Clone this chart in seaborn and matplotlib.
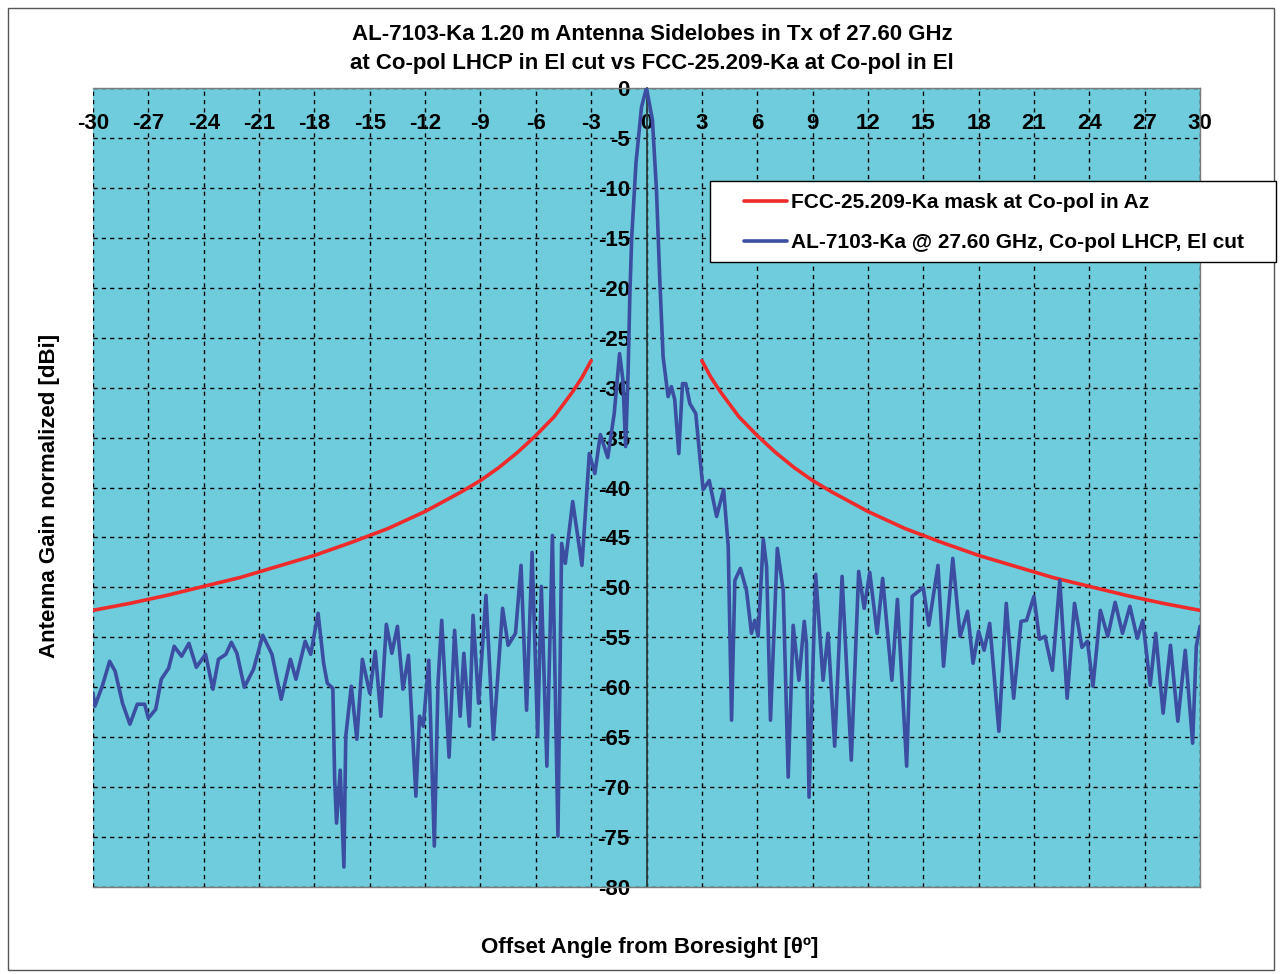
import numpy as np
import pandas as pd
import matplotlib
matplotlib.use("Agg")
import matplotlib.pyplot as plt
from matplotlib.lines import Line2D
from matplotlib.patches import Rectangle
import seaborn as sns

# ---------------- data ----------------
mask_angle = [3, 3.5, 4, 5, 6, 7, 8, 9, 10, 12, 14, 16, 18, 20, 22, 24, 26, 28, 30]
mask_db = [-27.3, -29.0, -30.4, -32.9, -34.8, -36.5, -38.0, -39.3, -40.4, -42.4,
           -44.1, -45.5, -46.8, -47.9, -49.0, -49.9, -50.8, -51.6, -52.3]

ant_angle = [-30.0, -29.9, -29.5, -29.1, -28.8, -28.4, -28.0, -27.6, -27.2, -27.0,
             -26.6, -26.3, -25.9, -25.6, -25.2, -24.8, -24.4, -23.9, -23.5, -23.2,
             -22.8, -22.5, -22.2, -21.8, -21.3, -20.8, -20.3, -19.8, -19.3, -19.0,
             -18.5, -18.2, -17.8, -17.5, -17.3, -17.0, -16.9, -16.8, -16.6, -16.4,
             -16.3, -16.0, -15.7, -15.4, -15.0, -14.7, -14.4, -14.1, -13.8, -13.5,
             -13.2, -12.9, -12.5, -12.3, -12.1, -11.8, -11.5, -11.3, -11.1, -10.7,
             -10.4, -10.1, -9.9, -9.6, -9.4, -9.1, -8.7, -8.3, -7.8, -7.5,
             -7.1, -6.8, -6.5, -6.2, -5.9, -5.7, -5.4, -5.1, -4.8, -4.6,
             -4.4, -4.0, -3.5, -3.1, -2.8, -2.5, -2.1, -1.75, -1.46, -1.28,
             -1.13, -1.0, -0.9, -0.8, -0.57, -0.27, 0.0, 0.32, 0.54, 0.72,
             0.90, 1.17, 1.35, 1.53, 1.75, 1.95, 2.13, 2.35, 2.67, 2.89,
             3.07, 3.4, 3.8, 4.18, 4.43, 4.61, 4.79, 5.09, 5.42, 5.69,
             5.87, 6.05, 6.33, 6.51, 6.72, 7.09, 7.41, 7.68, 7.95, 8.26,
             8.55, 8.67, 8.81, 9.17, 9.57, 9.84, 10.2, 10.6, 11.1, 11.5,
             11.8, 12.1, 12.5, 12.8, 13.3, 13.6, 14.1, 14.4, 15.0, 15.3,
             15.8, 16.1, 16.6, 17.0, 17.4, 17.7, 18.0, 18.3, 18.6, 19.1,
             19.5, 19.9, 20.3, 20.6, 21.0, 21.3, 21.6, 22.0, 22.4, 22.8,
             23.2, 23.6, 23.9, 24.2, 24.6, 25.0, 25.4, 25.8, 26.2, 26.6,
             26.9, 27.3, 27.6, 28.0, 28.4, 28.8, 29.2, 29.6, 29.8, 30.0]
ant_db = [-60.6, -61.9, -59.9, -57.4, -58.4, -61.6, -63.7, -61.7, -61.7, -63.1,
          -62.2, -59.2, -58.1, -55.9, -56.9, -55.6, -58.0, -56.7, -60.2, -57.2,
          -56.7, -55.5, -56.6, -60.0, -58.2, -54.8, -56.7, -61.2, -57.2, -59.2,
          -55.4, -56.7, -52.6, -57.6, -59.6, -60.1, -69.3, -73.6, -68.3, -78.0,
          -64.9, -59.9, -65.2, -57.2, -60.6, -56.4, -62.9, -53.7, -56.6, -53.9,
          -60.2, -56.8, -70.9, -62.9, -63.9, -57.3, -75.9, -59.6, -53.3, -67.0,
          -54.3, -62.9, -56.6, -63.9, -52.8, -61.6, -50.8, -65.2, -52.1, -55.8,
          -54.6, -47.8, -62.3, -46.5, -64.9, -49.9, -67.9, -44.8, -74.9, -45.6,
          -47.6, -41.4, -47.8, -36.6, -38.6, -34.7, -37.0, -32.6, -26.6, -29.2,
          -35.9, -28.6, -20.6, -14.9, -7.5, -1.9, 0.0, -3.2, -10.2, -19.2,
          -26.9, -30.9, -29.9, -31.2, -36.6, -29.6, -29.6, -31.6, -32.6, -36.9,
          -40.2, -39.3, -42.9, -40.2, -45.9, -63.3, -49.3, -48.1, -50.3, -54.6,
          -53.3, -54.9, -45.2, -47.9, -63.3, -46.1, -50.3, -69.0, -53.8, -59.3,
          -53.4, -55.6, -71.0, -48.7, -59.3, -54.6, -65.9, -48.9, -67.3, -48.4,
          -52.1, -48.5, -54.6, -49.1, -59.3, -51.2, -67.9, -50.9, -50.0, -53.8,
          -47.8, -57.9, -47.1, -54.9, -52.4, -57.6, -54.4, -56.3, -53.6, -64.4,
          -51.6, -61.1, -53.4, -53.3, -50.9, -55.2, -54.9, -58.3, -49.3, -61.1,
          -51.6, -56.0, -55.4, -59.9, -52.3, -54.9, -51.5, -54.6, -51.9, -55.1,
          -53.3, -59.8, -54.6, -62.6, -55.8, -63.4, -56.3, -65.6, -55.9, -53.9]

x_ticks = list(range(-30, 31, 3))
y_ticks = list(range(0, -81, -5))

title_line1 = "AL-7103-Ka 1.20 m Antenna Sidelobes in Tx of 27.60 GHz"
title_line2 = "at Co-pol LHCP in El cut vs FCC-25.209-Ka at Co-pol in El"
x_label = "Offset Angle from Boresight [θº]"
y_label = "Antenna Gain normalized [dBi]"
mask_label = "FCC-25.209-Ka mask at Co-pol in Az"
ant_label = "AL-7103-Ka @ 27.60 GHz, Co-pol LHCP, El cut"

# ---------------- styling ----------------
sns.set_theme(style="white")
plt.rcParams["font.family"] = ["Liberation Sans", "DejaVu Sans"]
plt.rcParams["font.weight"] = "bold"
plt.rcParams["axes.unicode_minus"] = False
plt.rcParams["text.color"] = "black"
plt.rcParams["axes.labelcolor"] = "black"
plt.rcParams["xtick.color"] = "black"
plt.rcParams["ytick.color"] = "black"

FACE = "#6ECCDC"
BLUE = "#3B4EA2"
RED = "#EE2A2A"

W, H = 1283, 974
fig = plt.figure(figsize=(W / 100, H / 100), dpi=100)
fig.patch.set_facecolor("white")
fig.patches.append(Rectangle((8 / W, 4 / H), (1274 - 8) / W, (966 - 4) / H,
                             transform=fig.transFigure, fill=False,
                             edgecolor="#555555", linewidth=1.0, zorder=1))

ax = fig.add_axes([93 / W, 1 - 887 / H, (1200 - 93) / W, (887 - 88) / H])
ax.set_facecolor(FACE)

df_ant = pd.DataFrame({"angle": ant_angle, "gain": ant_db})
df_mask_r = pd.DataFrame({"angle": mask_angle, "gain": mask_db})
df_mask_l = pd.DataFrame({"angle": [-a for a in mask_angle], "gain": mask_db})

sns.lineplot(data=df_mask_l, x="angle", y="gain", ax=ax, color=RED, lw=2.6,
             legend=False, zorder=3)
sns.lineplot(data=df_mask_r, x="angle", y="gain", ax=ax, color=RED, lw=2.6,
             legend=False, zorder=3)
sns.lineplot(data=df_ant, x="angle", y="gain", ax=ax, color=BLUE, lw=2.6,
             legend=False, zorder=4, sort=False)

ax.set_xlim(-30, 30)
ax.set_ylim(-80, 0)
ax.set_xticks(x_ticks)
ax.set_xticklabels([str(t) for t in x_ticks])
ax.set_yticks(y_ticks)
ax.set_yticklabels([str(t) for t in y_ticks])

ax.grid(True, color="black", linestyle=(0, (3, 3)), linewidth=1.0)
ax.set_axisbelow(True)

for s in ["top", "bottom", "right"]:
    ax.spines[s].set_color("#7a7a7a")
    ax.spines[s].set_linewidth(1.0)
ax.spines["left"].set_position(("data", 0))
ax.spines["left"].set_color("#2b3b3b")
ax.spines["left"].set_linewidth(1.3)
ax.spines["left"].set_zorder(2.5)

ax.xaxis.tick_top()
ax.tick_params(axis="x", top=True, bottom=False, labeltop=True, labelbottom=False,
               length=0, pad=-33, labelsize=16)
ax.tick_params(axis="y", left=True, length=0, pad=12, labelsize=16)
for lab in ax.get_xticklabels() + ax.get_yticklabels():
    lab.set_fontweight("bold")

ax.set_xlabel(x_label, fontsize=16, fontweight="bold")
ax.xaxis.set_label_position("bottom")
ax.xaxis.set_label_coords(0.503, -0.062)
ax.set_ylabel(y_label, fontsize=16, fontweight="bold")
ax.yaxis.set_label_coords(-0.03, 0.49)

fig.text(652 / W, 1 - 35 / H, title_line1, ha="center", va="center",
         fontsize=16, fontweight="bold")
fig.text(652 / W, 1 - 64 / H, title_line2, ha="center", va="center",
         fontsize=16, fontweight="bold")

# legend frame (extends beyond the plot area as in the reference)
fig.patches.append(Rectangle((710 / W, 1 - 262 / H), (1276 - 710) / W, (262 - 181) / H,
                             transform=fig.transFigure, facecolor="white",
                             edgecolor="black", linewidth=1.0, zorder=3))
handles = [Line2D([], [], color=RED, lw=2.6), Line2D([], [], color=BLUE, lw=2.6)]
leg = fig.legend(handles, [mask_label, ant_label], loc="upper left",
                 bbox_to_anchor=(744 / W, 1 - 193 / H), borderaxespad=0,
                 frameon=False, prop={"weight": "bold", "size": 15},
                 handlelength=2.05, handletextpad=0.2, labelspacing=1.0,
                 borderpad=0)
leg.set_zorder(6)

fig.savefig("out.png", dpi=100)
